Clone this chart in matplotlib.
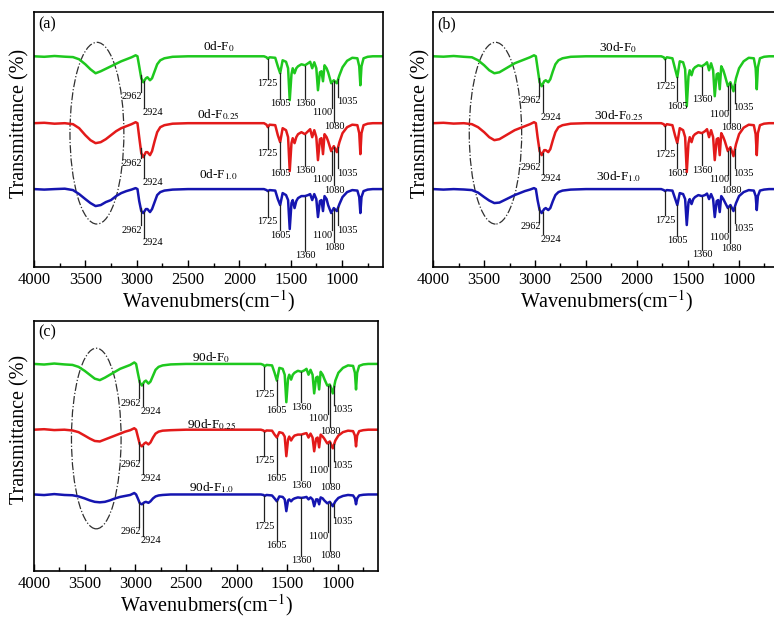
import numpy as np
import matplotlib.pyplot as plt
from matplotlib.patches import Ellipse
from matplotlib.ticker import MultipleLocator

plt.rcParams['font.family'] = ['Liberation Serif', 'DejaVu Serif']
plt.rcParams['mathtext.fontset'] = 'stix'

# wavenumbers of the traced spectrum vertices (cm-1)
wn = [4000, 3900, 3800, 3700, 3620, 3560, 3500, 3450, 3400, 3350,
      3300, 3250, 3200, 3150, 3100, 3050, 3010, 2992, 2975, 2955,
      2935, 2910, 2895, 2870, 2850, 2825, 2800, 2770, 2730, 2650,
      2500, 2000, 1760, 1735, 1722, 1705, 1650, 1625, 1602, 1578,
      1545, 1525, 1509, 1492, 1480, 1462, 1445, 1428, 1395, 1360,
      1330, 1310, 1290, 1270, 1250, 1234, 1215, 1200, 1185, 1170,
      1150, 1135, 1105, 1080, 1050, 1025, 995, 950, 900, 850,
      832, 821, 810, 790, 750, 700, 600]

# band depth below each trace's baseline (arb. units), 0 days
d0_f0 = [0, 0.5, -0.3, 0.4, 0.8, 3, 8, 13, 17, 15,
         12.5, 10, 7.5, 5, 3, 1, -1, 0, 10, 22,
         26, 22, 21, 24, 22, 15, 8, 4, 2, 0.5,
         0, 0, 0, 1, 2.5, 1, 1.5, 10, 17, 4,
         5.5, 12, 44, 18, 12, 17, 12, 10, 8, 9,
         7, 5.5, 12, 6, 12, 34, 16, 15, 25, 9,
         12, 16, 27, 24, 27, 19, 11, 4.5, 1.5, 2,
         10, 29, 10, 2, 0.5, 0, 0]
d0_f025 = [0, -0.4, 0.5, 0, 1, 5, 12, 17, 20, 19,
           16, 12, 8, 5, 3, 1, -1, 0, 14, 30,
           34, 29, 29, 32, 28, 18, 9, 4, 2, 0.5,
           0, 0, 0, 1.5, 4, 1.5, 2, 12, 19, 5,
           7, 14, 48, 20, 15, 20, 14, 11, 9, 11,
           8, 6, 14, 7, 14, 37, 16, 15, 31, 11,
           14, 18, 28, 23, 29, 19, 10, 4, 1.5, 2,
           10, 31, 10, 2, 0.5, 0, 0]
d0_f10 = [0, 0.5, 0, -0.4, 1, 5, 10, 14, 17, 16,
          13, 11, 7, 4, 2, 0.5, -1, 0, 12, 22,
          24, 20, 20, 23, 20, 13, 6, 3, 1.5, 0.5,
          0, 0, 0, 1, 2, 1, 1.5, 10, 16, 4,
          6, 11, 40, 14, 11, 19, 12, 9, 7, 7,
          6, 5, 11, 5, 10, 28, 12, 11, 22, 7,
          10, 16, 24, 19, 22, 15, 8, 3, 1, 1.5,
          8, 24, 8, 2, 0.5, 0, 0]

# 30 days
d30_f0 = [0, 0.4, -0.3, 0.5, 1, 4, 9, 14, 17, 16,
          13, 10, 7, 5, 3, 1, -1, 0, 12, 26,
          30, 25, 24, 26, 23, 15, 8, 4, 2, 0.5,
          0, 0, 0, 1, 3, 1, 2, 12, 21, 5,
          6, 13, 50, 20, 14, 19, 13, 11, 9, 10,
          8, 6, 14, 7, 14, 40, 18, 17, 33, 10,
          14, 19, 30, 26, 35, 22, 12, 5, 1.5, 2,
          12, 33, 11, 2, 0.5, 0, 0]
d30_f025 = [0, -0.4, 0.4, 0, 1, 4, 9, 14, 17, 16,
            13, 10, 7, 5, 3, 1, -1, 0, 14, 28,
            32, 27, 27, 29, 26, 17, 9, 4, 2, 0.5,
            0, 0, 0, 1, 3, 1, 2, 12, 20, 5,
            7, 14, 49, 20, 14, 19, 13, 11, 9, 10,
            8, 6, 14, 7, 14, 37, 16, 15, 32, 10,
            14, 18, 28, 24, 33, 21, 11, 4.5, 1.5, 2,
            11, 32, 10, 2, 0.5, 0, 0]
d30_f10 = [0, 0.5, 0, 0.4, 1, 3.5, 8, 11.5, 14, 13.5,
           11, 8.5, 6, 4, 2, 0.5, -1, 0, 11, 21,
           24, 20, 19, 21, 19, 12, 6, 3, 1.5, 0.5,
           0, 0, 0, 1, 2, 1, 1.5, 9, 16, 4,
           5, 10, 36, 13, 10, 15, 10, 8, 6, 7,
           6, 4.5, 10, 5, 10, 28, 12, 11, 23, 7,
           10, 13, 19, 16, 22, 14, 7, 3, 1, 1.5,
           7, 21, 7, 1.5, 0.5, 0, 0]

# 90 days
d90_f0 = [0, 0.6, -0.4, 0.5, 1, 3, 7, 11, 15, 16.5,
          14, 11, 8, 5, 3, 1, -1.5, 0, 9, 19,
          22, 18, 17, 20, 18, 12, 6, 3, 1.5, 0.5,
          0, 0, 0, 1, 2.5, 1, 1.5, 9, 17, 4,
          5, 11, 39, 15, 11, 16, 11, 9, 7, 8,
          6.5, 5, 11, 6, 11, 30, 14, 13, 26, 8,
          11, 15, 22, 21, 30, 17, 9, 4, 1.5, 2,
          9, 26, 9, 2, 0.5, 0, 0]
d90_f025 = [0, -0.5, 0.4, 0, 0.8, 2.5, 6, 9, 11.5, 12,
            10, 8, 6, 4, 2, 0.5, -1.5, 0, 7, 15,
            17, 14, 13, 15, 13, 8, 4, 2, 1, 0.5,
            0, 0, 0, 0.8, 2, 0.8, 1, 5, 8, 2.5,
            3.5, 7, 27, 10, 7, 11, 8, 6, 5, 5,
            4, 3.5, 8, 4, 8, 22, 9, 8, 18, 5,
            7, 9, 14, 12, 19, 11, 6, 2.5, 1, 1.5,
            6, 17, 6, 1.5, 0.5, 0, 0]
d90_f10 = [0, 0.6, -0.4, 0.5, 0.8, 2, 4, 6, 7.5, 8,
           7.5, 6, 4, 2.5, 1.5, 0.5, -1.5, 0, 4, 9,
           10, 8, 7.5, 8.5, 7, 4, 2, 1, 0.5, 0,
           0, 0, 0, 0.5, 1.5, 0.5, 1, 4, 7, 2,
           2.5, 5, 17, 6, 5, 7, 5, 4, 3, 3.5,
           3, 2.5, 5, 3, 5, 12, 5, 5, 10, 3,
           4, 6, 9, 7.5, 12, 7, 3.5, 1.5, 0.5, 1,
           4, 10, 4, 1, 0.3, 0, 0]

days = ['0', '30', '90']
subs = ['0', '0.25', '1.0']
colors = ['#1ec81e', '#e31a1a', '#1515b0']
offsets = [211, 144, 78]

# assigned bands and where their labels sit (depth below baseline)
peaks = [2962, 2924, 1725, 1605, 1360, 1100, 1080, 1035]
peak_tx = [2945, 2945, 1725, 1605, 1360, 1095, 1075, 1052]
peak_ha = ['right', 'left', 'center', 'center', 'center', 'right', 'center', 'left']
lab_a = [[40.7, 56.7, 27.3, 47.3, 47.3, 56.7, 70.7, 45.7],
         [40, 59.4, 30.7, 50.7, 47.4, 56.7, 67.4, 50],
         [41, 53.7, 32.7, 46, 67, 46, 58.3, 41]]
lab_b = [[44.3, 61, 30, 50, 43.3, 58.3, 71.7, 51.7],
         [44, 55.6, 31.3, 50, 47.3, 56.6, 67.3, 50],
         [37.7, 50.3, 31, 51.7, 66, 48.3, 59.3, 39.3]]
lab_c = [[40, 48, 30.7, 47.3, 44, 55.7, 69, 46.7],
         [35.7, 50, 31.7, 50, 56.7, 41.7, 59.3, 36.7],
         [38, 47.3, 32.3, 52.3, 67.3, 43.3, 62.3, 28]]

# name label height above each baseline
name_a = [6, 5, 11]
name_b = [5, 4, 9]
name_c = [3, 2, 3]
name_x = [2200, 2180, 2250]

# O-H region ellipses: centre x, centre y, width, height
ell_x = [3387, 3389, 3385]
ell_y = [134, 134, 135]
ell_w = [525, 515, 490]
ell_h = [182, 182, 184]

panels = [
    ('(a)', [d0_f0, d0_f025, d0_f10], lab_a, name_a, [0.0439, 0.568, 0.451, 0.412], -0.014),
    ('(b)', [d30_f0, d30_f025, d30_f10], lab_b, name_b, [0.5598, 0.568, 0.447, 0.412], -0.008),
    ('(c)', [d90_f0, d90_f025, d90_f10], lab_c, name_c, [0.0439, 0.0760, 0.445, 0.405], -0.014),
]

fig = plt.figure(figsize=(7.74, 6.18), dpi=100)
wn_up = np.array(wn)[::-1]

for i, (tag, spectra, labs, name_dy, box, ylx) in enumerate(panels):
    ax = fig.add_axes(box)
    for k, d in enumerate(spectra):
        d = np.array(d, dtype=float)
        off = offsets[k]
        ax.plot(wn, off - d, color=colors[k], lw=1.8)
        for j, p in enumerate(peaks):
            top = off - np.interp(p, wn_up, d[::-1]) - 0.5
            bot = off - (labs[k][j] - 5)
            ax.plot([p, p], [top, bot], color='#202020', lw=0.9)
            ax.text(peak_tx[j], off - labs[k][j], str(p), ha=peak_ha[j],
                    va='center', fontsize=7.4)
        ax.text(name_x[i], off + name_dy[k], days[i] + 'd-F$_{' + subs[k] + '}$',
                ha='center', va='baseline', fontsize=9.5)
    ax.add_patch(Ellipse((ell_x[i], ell_y[i]), ell_w[i], ell_h[i], fill=False,
                         ls='-.', lw=0.9, ec='#303030'))
    ax.text(0.012, 0.952, tag, transform=ax.transAxes, ha='left', va='center', fontsize=11.5)

    ax.set_xlim(4000, 600)
    ax.set_ylim(0, 255)
    ax.xaxis.set_major_locator(MultipleLocator(500))
    ax.xaxis.set_minor_locator(MultipleLocator(250))
    ax.tick_params(axis='x', which='major', direction='in', length=5, width=1, labelsize=12)
    ax.tick_params(axis='x', which='minor', direction='in', length=3, width=1)
    ax.set_yticks([])
    for s in ax.spines.values():
        s.set_linewidth(1.2)
    ax.set_xlabel('Wavenubmers(cm$^{-1}$)', fontsize=14.5, labelpad=0)
    ax.set_ylabel('Transmittance (%)', fontsize=14.5)
    ax.yaxis.set_label_coords(ylx, 0.565)

fig.savefig('out.png', dpi=100)
